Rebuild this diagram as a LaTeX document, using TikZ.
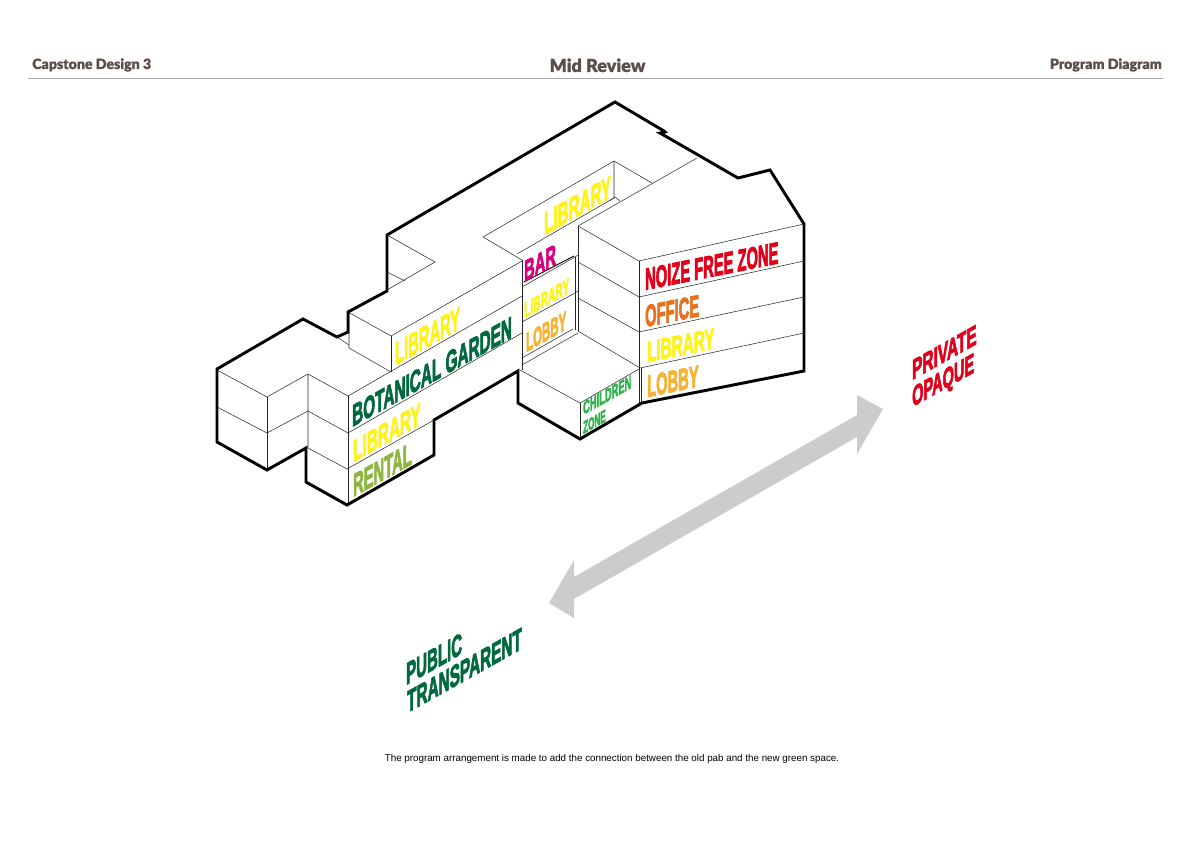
\documentclass[tikz,border=0pt]{standalone}
\usepackage{fontspec}
\setmainfont{Liberation Sans}
\newfontfamily\impact[FakeBold=3.5]{Liberation Sans Bold}
\newfontfamily\headfont[FakeBold=.7]{Lato Black}
\definecolor{headgray}{HTML}{5A4F4A}
\definecolor{libyellow}{HTML}{FFF21A}
\definecolor{darkgreen}{HTML}{00693E}
\definecolor{rentgreen}{HTML}{8DB63F}
\definecolor{kidgreen}{HTML}{2DB34A}
\definecolor{barpink}{HTML}{D6007F}
\definecolor{zonered}{HTML}{E2001A}
\definecolor{officeorange}{HTML}{E8711F}
\definecolor{lobbyamber}{HTML}{F7B231}
\tikzset{
    thick line/.style={line width=2.2pt, black, line join=miter},
    thin line/.style={line width=.4pt, black!85},
    iso/.style 2 args={yslant=.56, xscale=#2, transform shape, anchor=base west, inner sep=0pt, font=\impact\fontsize{#1}{#1}\selectfont},
    flat/.style 2 args={yslant=.2, xscale=#2, transform shape, anchor=base west, inner sep=0pt, font=\impact\fontsize{#1}{#1}\selectfont},
    head/.style={font=\headfont\fontsize{#1}{#1}\selectfont, text=headgray, inner sep=0pt, anchor=base},
}
\begin{document}
\begin{tikzpicture}[x=.75pt, y=-.75pt]
    \useasboundingbox (0,0) rectangle (1191,842);

    \node[head=10.6, anchor=base west] (course) at (32,69) {Capstone Design 3};
    \node[head=13.5] (review) at (597.5,72) {Mid Review};
    \node[head=10.6, anchor=base east] (sheet) at (1162,69) {Program Diagram};
    \draw[black!35, line width=.6pt] (28,78) -- (1163,78);

    \fill[black!20] (883,409) -- (857,395) -- (857,415) -- (574,577) -- (574,560) -- (549,603)
        -- (574,618) -- (574,599) -- (857,437) -- (857,454) -- cycle;

    \draw[thin line] (217,370) -- (267,397) -- (308,374) -- (348,396) -- (522,296);
    \draw[thin line] (217,407) -- (267,433) -- (308,411) -- (348,433) -- (522,333);
    \draw[thin line] (267,397) -- (267,470);
    \draw[thin line] (308,374) -- (308,448) -- (347,469) -- (434,420);
    \draw[thin line] (348,396) -- (348,505);
    \draw[thin line] (348,312) -- (391,336) -- (522,261);
    \draw[thin line] (391,336) -- (391,372);
    \draw[thin line] (349,312) -- (349,348) -- (391,372);
    \draw[thin line] (337,337) -- (349,345);
    \draw[thin line] (387,235) -- (435,262) -- (387,290);
    \draw[thin line] (387,272) -- (405,281);
    \draw[thin line] (522,260) -- (522,370);
    \draw[thin line] (522,260) -- (483,237) -- (614,161) -- (652,183);
    \draw[thin line] (614,161) -- (614,198) -- (517,254);
    \draw[thin line] (609,201) -- (615,197) -- (620,201);
    \draw[thin line] (578,226) -- (697,158);
    \draw[thin line] (578,226) -- (639,261) -- (804,224);
    \draw[thin line] (578,226) -- (578,331);
    \draw[thin line] (639,261) -- (639,403);
    \draw[thin line] (641,368) -- (641,403);
    \draw[thin line] (578,262) -- (639,297) -- (804,261);
    \draw[thin line] (578,298) -- (639,332) -- (804,297);
    \draw[thin line] (578,331) -- (640,368) -- (804,333);
    \draw[thin line] (522,287) -- (575,257) -- (578,255);
    \draw[thin line] (522,322) -- (575,293) -- (578,291);
    \draw[thin line] (522,358) -- (573,329);
    \draw[thin line] (522,365) -- (578,333);
    \draw[thin line] (575,257) -- (575,330);
    \draw[thin line] (520,370) -- (580,403) -- (639,369);
    \draw[thin line] (580,403) -- (580,439);
    \draw[black, line width=.7pt] (524,282) -- (574,256);

    \draw[thick line] (615,102) -- (664,131) -- (665,132) -- (660,133) -- (738,178) -- (770,170) -- (804,224)
        -- (804,371) -- (642,403) -- (580,439) -- (518,403) -- (518,371) -- (434,420) -- (434,455)
        -- (347,505) -- (306,482) -- (306,448) -- (267,470) -- (217,442) -- (217,369) -- (303,319)
        -- (337,337) -- (348,332) -- (348,312) -- (387,291) -- (387,235) -- cycle;

    \node[iso={24}{.46}, text=libyellow] (libtop) at (395,365) {LIBRARY};
    \node[iso={23}{.5}, text=darkgreen] (garden) at (352,427) {BOTANICAL GARDEN};
    \node[iso={23}{.5}, text=libyellow] (libmid) at (353,462) {LIBRARY};
    \node[iso={24}{.46}, text=rentgreen] (rental) at (353,497) {RENTAL};
    \node[iso={24}{.475}, text=libyellow] (libcourt) at (544,235) {LIBRARY};
    \node[iso={22}{.5}, text=barpink] (bar) at (524,282) {BAR};
    \node[iso={16}{.48}, text=libyellow] (libsmall) at (524,318) {LIBRARY};
    \node[iso={20}{.43}, text=lobbyamber] (lobbysmall) at (526,352) {LOBBY};
    \node[iso={14}{.5}, text=kidgreen] (children) at (583,415) {CHILDREN};
    \node[iso={13}{.47}, text=kidgreen] (zone) at (583,434) {ZONE};
    \node[flat={23}{.48}, text=zonered] (noize) at (645,290) {NOIZE FREE ZONE};
    \node[flat={23}{.48}, text=officeorange] (office) at (645,327) {OFFICE};
    \node[flat={22}{.52}, text=libyellow] (libright) at (647,362) {LIBRARY};
    \node[flat={23}{.48}, text=lobbyamber] (lobbyright) at (647,397) {LOBBY};
    \node[iso={21}{.55}, text=zonered] (private) at (912,380) {PRIVATE};
    \node[iso={21}{.52}, text=zonered] (opaque) at (912,407) {OPAQUE};
    \node[iso={23}{.49}, text=darkgreen] (public) at (406,685) {PUBLIC};
    \node[iso={23}{.5}, text=darkgreen] (transparent) at (407,713) {TRANSPARENT};

    \node[font=\fontsize{7.35}{9}\selectfont, inner sep=0pt, anchor=base] (caption) at (612,761) {The program arrangement is made to add the connection between the old pab and the new green space.};
\end{tikzpicture}
\end{document}
